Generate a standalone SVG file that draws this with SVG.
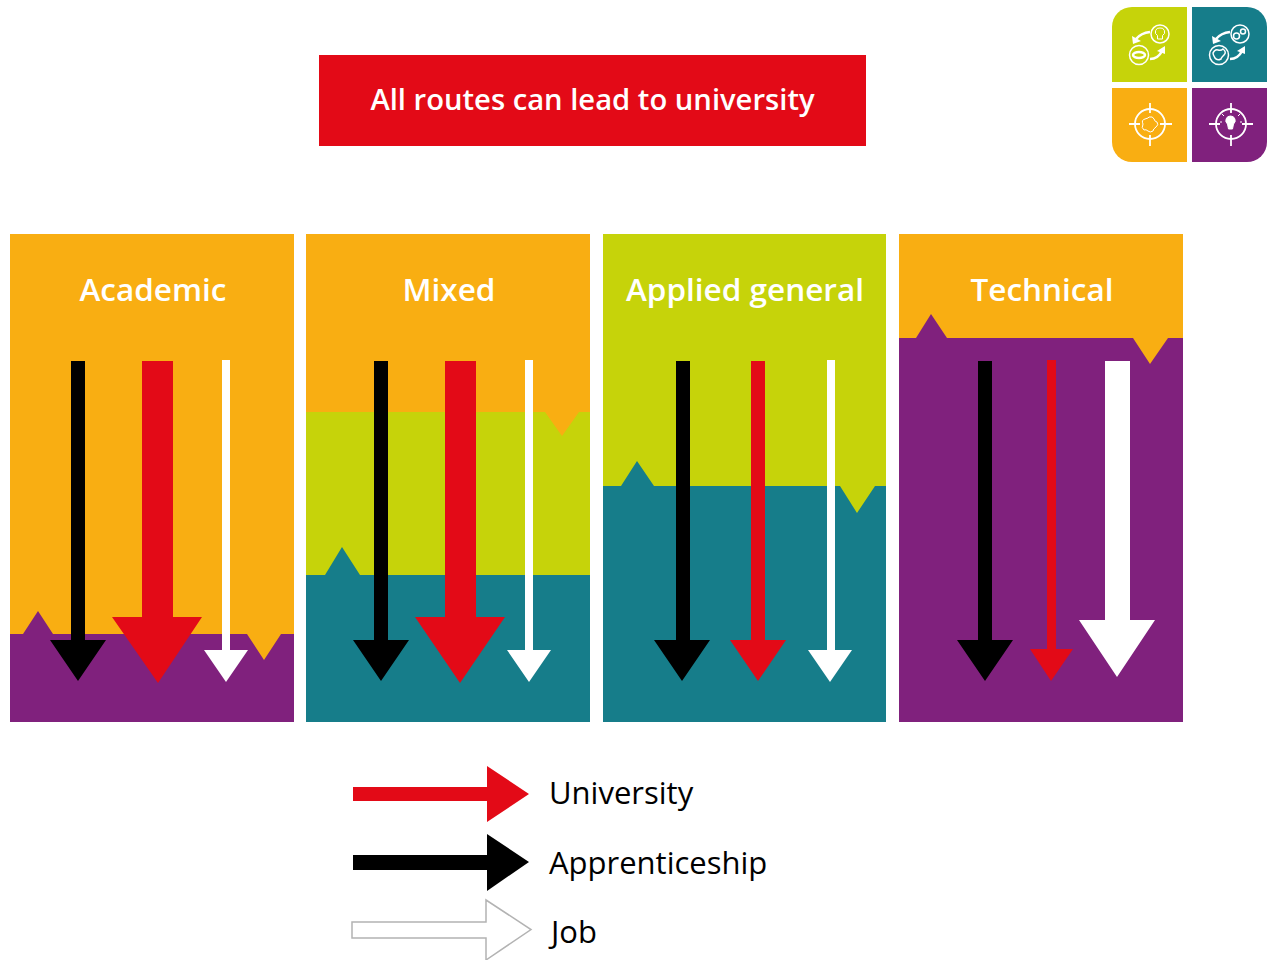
<svg xmlns="http://www.w3.org/2000/svg" width="1274" height="960" viewBox="0 0 1274 960">
<style>
text{font-family:"Open Sans","Noto Sans","Liberation Sans",sans-serif}
.o{fill:#f9ae12}.l{fill:#c6d30a}.t{fill:#167d8a}.p{fill:#80217d}
.k{fill:#000}.r{fill:#e30a17}.w{fill:#fff}
.h{fill:#fff;font-size:31.500px;font-weight:600;text-anchor:middle}
.g{font-size:31px;fill:#000}
.i{fill:none;stroke:#fff;stroke-width:1.500}
.a{fill:none;stroke:#fff;stroke-width:2.600}
.b{fill:#fff}
</style>
<rect width="1274" height="960" fill="#fff"/>
<g id="title"><rect class="r" x="319" y="55" width="547" height="91"/><text x="592.500" y="110" fill="#fff" font-size="29.200" font-weight="600" text-anchor="middle">All routes can lead to university</text></g>
<g id="logo">
<path class="l" d="M1132 7H1187V82H1112V27A20 20 0 0 1 1132 7Z"/>
<path class="t" d="M1192 7H1247A20 20 0 0 1 1267 27V82H1192Z"/>
<path class="o" d="M1112 88H1187V162H1132A20 20 0 0 1 1112 142Z"/>
<path class="p" d="M1192 88H1267V142A20 20 0 0 1 1247 162H1192Z"/>
<g class="i">
<circle cx="1160" cy="34" r="9"/><circle cx="1139" cy="55" r="9.500"/><ellipse cx="1139" cy="55" rx="6" ry="3" stroke-width="2.500"/><path d="M1160 28a4 4 0 0 1 2.500 7.500v3.500h-5v-3.500a4 4 0 0 1 2.500-7.500Z" stroke-width="1"/>
<circle cx="1240" cy="34" r="9"/><circle cx="1236.500" cy="36" r="3"/><circle cx="1243" cy="31.500" r="2.500"/><circle cx="1219" cy="55" r="9.500"/><path d="M1213 53q2-4 5-3t5-1q4 3 1 6t-3 4q-4 2-6-1t-2-5Z"/>
</g>
<g class="a">
<path d="M1150 32q-9 1-14 7"/><path d="M1150 59q8 0 12-8"/>
<path d="M1230 32q-9 1-14 7"/><path d="M1230 59q8 0 12-8"/>
</g>
<path class="b" d="M1132 36l9 5-8 3ZM1212 36l9 5-8 3ZM1165 46l0 8-8-3ZM1245 46l0 8-8-3Z"/>
<g class="a" stroke-width="2">
<circle cx="1150" cy="124" r="15" style="stroke-width:1.800"/><path style="stroke-width:1.800" d="M1150 103v10M1150 135v11M1129 124h11M1160 124h12"/>
<circle cx="1231" cy="124" r="15" style="stroke-width:1.800"/><path style="stroke-width:1.800" d="M1231 103v10M1231 135v11M1209 124h11M1242 124h11"/>
</g>
<g class="i">
<path d="M1143 124q-2-4 2-5t4-2q4-1 5 2t3 3q2 3-1 5t-3 4q-3 2-5 0t-4-1q-3-2-1-6Z" stroke-width="1"/>
<path d="M1230 116a4.500 4.500 0 0 1 3 8l-1 5h-4l-1-5a4.500 4.500 0 0 1 3-8Z" fill="#fff" stroke-width="1" transform="translate(.5 0)"/>
<path d="M1224 116l-2-2M1238 116l2-2M1222 122h-2M1240 122h2M1231 112v-2" stroke-width="1"/>
</g>
</g>
<g id="panel-academic">
<rect class="o" x="10" y="234" width="284" height="430"/>
<path class="p" d="M10 722V634H23L38 611L53 634H247L264 660L281 634H294V722Z"/>
<text class="h" x="153" y="301">Academic</text>
</g>
<g id="panel-mixed">
<rect class="o" x="306" y="234" width="284" height="206"/>
<path class="l" d="M306 576V412H545L562 436L579 412H590V576Z"/>
<path class="t" d="M306 722V575H325L342 547L360 575H590V722Z"/>
<text class="h" x="449" y="301">Mixed</text>
</g>
<g id="panel-applied">
<rect class="l" x="603" y="234" width="283" height="284"/>
<path class="t" d="M603 722V486H621L637 461L654 486H840L857 513L875 486H886V722Z"/>
<text class="h" x="745" y="301">Applied general</text>
</g>
<g id="panel-technical">
<rect class="o" x="899" y="234" width="284" height="134"/>
<path class="p" d="M899 722V338H916L931 314L947 338H1133L1150 364L1168 338H1183V722Z"/>
<text class="h" x="1042" y="301">Technical</text>
</g>
<g id="connectors">
<path class="k" d="M71 361H85V640H106L78 681L50 640H71Z"/>
<path class="r" d="M142 361H173V617H202L158 683L112 617H142Z"/>
<path class="w" d="M222 360H230V650H248L226 682L204 650H222Z"/>
<path class="k" d="M374 361H388V640H409L381 681L353 640H374Z"/>
<path class="r" d="M445 361H476V617H505L460 683L415 617H445Z"/>
<path class="w" d="M525 360H533V650H551L529 682L507 650H525Z"/>
<path class="k" d="M676 361H690V640H710L682 681L654 640H676Z"/>
<path class="r" d="M751 361H765V640H786L758 681L730 640H751Z"/>
<path class="w" d="M827 360H835V650H852L830 682L808 650H827Z"/>
<path class="k" d="M978 361H992V640H1013L985 681L957 640H978Z"/>
<path class="r" d="M1047 360H1056V649H1073L1051 681L1030 649H1047Z"/>
<path class="w" d="M1105 361H1130V620H1155L1117 677L1079 620H1105Z"/>
<path class="r" d="M353 787H487V766L529 794L487 822V801H353Z"/>
<path class="k" d="M353 855H487V834L529 862L487 891V870H353Z"/>
<path fill="#fff" stroke="#b3b3b3" stroke-width="1.500" d="M352 922H486V900L531 929.500L486 960V938H352Z"/>
</g>
<g id="legend">
<text class="g" x="549" y="804">University</text>
<text class="g" x="549" y="874">Apprenticeship</text>
<text class="g" x="551" y="943">Job</text>
</g>
</svg>
